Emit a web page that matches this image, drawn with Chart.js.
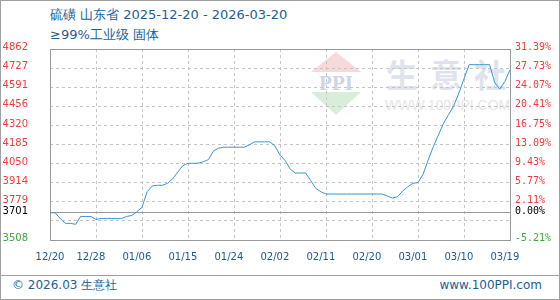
<!DOCTYPE html>
<html>
<head>
<meta charset="utf-8">
<script src="https://cdn.jsdelivr.net/npm/chart.js@4.4.1/dist/chart.umd.min.js"></script>
<style>
html, body { margin: 0; padding: 0; }
body { width: 560px; height: 300px; position: relative; overflow: hidden; background: #fff; font-family: "DejaVu Sans", sans-serif; }
#frame { position: absolute; left: 0; top: 0; width: 560px; height: 300px; box-sizing: border-box; border: 1px solid #a0a0a0; }
.title { position: absolute; left: 50px; font-size: 13px; line-height: 16px; color: #1b6197; white-space: nowrap; }
#sep { position: absolute; left: 0; top: 275px; width: 560px; height: 1px; background: #a0a0a0; }
.foot { position: absolute; top: 277px; font-size: 12px; line-height: 16px; color: #1b6197; white-space: nowrap; }
.wm { position: absolute; white-space: nowrap; }
#tri1 { position: absolute; left: 311px; top: 52px; width: 0; height: 0; border-left: 25px solid transparent; border-right: 25px solid transparent; border-bottom: 20px solid #f6d9d9; }
#tri2 { position: absolute; left: 311px; top: 92px; width: 0; height: 0; border-left: 25px solid transparent; border-right: 25px solid transparent; border-top: 23px solid #d9eed9; }
#wrap { position: absolute; left: 0; top: 0; width: 560px; height: 300px; }
</style>
</head>
<body>
<div id="frame"></div>
<div class="title" style="top:7px">硫磺 山东省 2025-12-20 - 2026-03-20</div>
<div class="title" style="top:27px">≥99%工业级 固体</div>

<div id="tri1"></div>
<div class="wm" style="left:311px;top:71px;width:50px;text-align:center;font:bold 21px 'Liberation Serif';color:#cdd6e6;">PPI</div>
<div id="tri2"></div>
<div class="wm" style="left:386px;top:50px;font:bold 32px 'Noto Sans CJK SC';letter-spacing:12px;color:#dfe4ec;">生意社</div>
<div class="wm" style="left:385px;top:97px;font:14px 'Liberation Sans';color:#e6e6e6;">WWW.100PPI.COM</div>

<div id="sep"></div>
<div class="foot" style="left:12px">© 2026.03 生意社</div>
<div class="foot" style="right:18px">www.100PPI.com</div>

<div id="wrap"><canvas id="chart"></canvas></div>

<script>
// daily prices, 2025-12-20 .. 2026-03-20
const prices = [
    3701, 3701, 3660, 3626, 3626, 3619, 3675, 3675, 3675, 3654,
    3661, 3661, 3661, 3661, 3661, 3675, 3682, 3708, 3740, 3850,
    3891, 3896, 3896, 3910, 3942, 3990, 4035, 4052, 4052, 4052,
    4063, 4078, 4140, 4159, 4166, 4166, 4166, 4166, 4166, 4182,
    4204, 4204, 4204, 4204, 4175, 4110, 4072, 4010, 3983, 3983,
    3983, 3930, 3874, 3850, 3834, 3834, 3834, 3834, 3834, 3834,
    3834, 3834, 3834, 3834, 3834, 3834, 3820, 3805, 3815, 3855,
    3885, 3910, 3915, 3975, 4076, 4170, 4253, 4336, 4398, 4460,
    4550, 4650, 4751, 4751, 4751, 4751, 4751, 4625, 4578, 4632,
    4715
];

const xTickDays = [0, 8, 17, 26, 35, 44, 53, 62, 71, 80, 89];
const xTickLabels = ['12/20', '12/28', '01/06', '01/15', '01/24', '02/02', '02/11', '02/20', '03/01', '03/10', '03/19'];
const xGridDays = [0, 9, 18, 27, 36, 45, 54, 63, 72, 81, 90];

const baseValue = 3701;
const yTicks = [3508, 3643, 3779, 3914, 4050, 4185, 4320, 4456, 4591, 4727, 4862];
const yLabels = ['3508', '', '3779', '3914', '4050', '4185', '4320', '4456', '4591', '4727', '4862'];
const pctLabels = ['-5.21%', '', '2.11%', '5.77%', '9.43%', '13.09%', '16.75%', '20.41%', '24.07%', '27.73%', '31.39%'];

const RED = '#f03c3c';
const GREEN = '#3aaa3a';

function tickColor(ctx) {
    const v = ctx.tick.value;
    if (v === baseValue) return '#000';
    return v > baseValue ? RED : GREEN;
}

function setYTicks(scale) {
    scale.ticks = yTicks.concat([baseValue]).sort((a, b) => a - b).map(v => ({ value: v }));
}

const framePlugin = {
    id: 'frame',
    beforeDatasetsDraw(chart) {
        const { ctx, chartArea: a, scales } = chart;
        const yb = Math.floor(scales.y.getPixelForValue(baseValue)) + 0.5;
        ctx.save();
        ctx.strokeStyle = '#999';
        ctx.lineWidth = 1;
        ctx.beginPath();
        ctx.moveTo(a.left, yb);
        ctx.lineTo(a.right, yb);
        ctx.stroke();
        ctx.strokeRect(a.left + 0.5, a.top + 0.5, a.width, a.height);
        ctx.restore();
    }
};

new Chart(document.getElementById('chart').getContext('2d'), {
    type: 'line',
    data: {
        datasets: [{
            data: prices.map((p, i) => ({ x: i, y: p })),
            borderColor: '#3796d6',
            borderWidth: 1,
            pointRadius: 0,
            tension: 0,
            fill: false
        }]
    },
    options: {
        responsive: true,
        maintainAspectRatio: false,
        animation: false,
        layout: { padding: { top: 49, left: 0, right: 0, bottom: 0 } },
        plugins: { legend: { display: false }, tooltip: { enabled: false } },
        scales: {
            x: {
                type: 'linear',
                min: 0,
                max: 90,
                afterBuildTicks: s => { s.ticks = xGridDays.map(v => ({ value: v })); },
                afterFit: s => { s.height = 0; },
                ticks: { display: false },
                grid: { color: '#c4c4c4', drawTicks: false },
                border: { display: false, dash: [3, 3] }
            },
            x2: {
                type: 'linear',
                position: 'bottom',
                min: 0,
                max: 90,
                afterBuildTicks: s => { s.ticks = xTickDays.map(v => ({ value: v })); },
                afterFit: s => { s.height = 60; },
                grid: { display: false, drawTicks: false },
                border: { display: false },
                ticks: {
                    autoSkip: false,
                    minRotation: 0,
                    maxRotation: 0,
                    padding: 11,
                    color: '#1b5a8c',
                    font: { family: 'DejaVu Sans', size: 10 },
                    callback: v => xTickLabels[xTickDays.indexOf(v)]
                }
            },
            y: {
                position: 'left',
                min: 3508,
                max: 4862,
                afterBuildTicks: setYTicks,
                afterFit: s => { s.width = 50; },
                grid: {
                    drawTicks: false,
                    color: ctx => ctx.tick && ctx.tick.value === baseValue ? 'rgba(0,0,0,0)' : '#c4c4c4'
                },
                border: { display: false, dash: [3, 3] },
                ticks: {
                    autoSkip: false,
                    padding: 22,
                    labelOffset: -1.5,
                    color: tickColor,
                    font: { family: 'DejaVu Sans', size: 10 },
                    callback: v => v === baseValue ? String(baseValue) : yLabels[yTicks.indexOf(v)]
                }
            },
            y2: {
                position: 'right',
                min: 3508,
                max: 4862,
                afterBuildTicks: setYTicks,
                afterFit: s => { s.width = 50; },
                grid: { display: false, drawTicks: false },
                border: { display: false },
                ticks: {
                    autoSkip: false,
                    padding: 5,
                    labelOffset: -1.5,
                    color: tickColor,
                    font: { family: 'DejaVu Sans Mono', size: 10 },
                    callback: v => v === baseValue ? '0.00%' : pctLabels[yTicks.indexOf(v)]
                }
            }
        }
    },
    plugins: [framePlugin]
});
</script>
</body>
</html>
